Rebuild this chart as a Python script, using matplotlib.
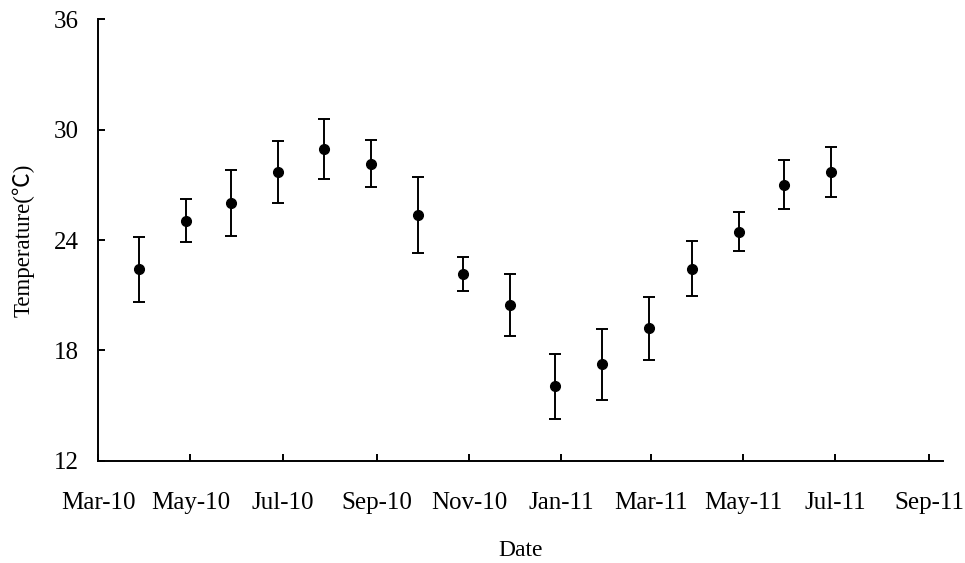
import numpy as np
import pandas as pd
import matplotlib
matplotlib.use("Agg")
import matplotlib.pyplot as plt
import matplotlib.dates as mdates

# monthly sampling dates and temperatures (mean +/- sd)
dates = pd.to_datetime([
    "2010-03-28", "2010-04-28", "2010-05-28", "2010-06-28",
    "2010-07-28", "2010-08-28", "2010-09-28", "2010-10-28",
    "2010-11-28", "2010-12-28", "2011-01-28", "2011-02-28",
    "2011-03-28", "2011-04-28", "2011-05-28", "2011-06-28",
])
temp_mean = [22.4, 25.05, 26.0, 27.7, 28.95, 28.15, 25.35, 22.15,
             20.45, 16.05, 17.25, 19.2, 22.45, 24.45, 27.0, 27.7]
temp_sd = [1.76, 1.15, 1.80, 1.70, 1.63, 1.28, 2.07, 0.92,
           1.68, 1.75, 1.93, 1.70, 1.50, 1.05, 1.33, 1.37]

tick_dates = pd.date_range("2010-03-01", "2011-09-01", freq="2MS")
y_ticks = [12, 18, 24, 30, 36]

font = ["Liberation Serif", "Noto Sans CJK TC", "DejaVu Sans"]
plt.rcParams["font.family"] = font

fig = plt.figure(figsize=(9.65, 5.63), dpi=100)
ax = fig.add_axes([0.1016, 0.1812, 0.8756, 0.785])

ax.errorbar(dates, temp_mean, yerr=temp_sd, fmt="o", color="black",
            markersize=7, elinewidth=1.4, capsize=4.5, capthick=1.4)

ax.set_xlim(pd.Timestamp("2010-03-01"), pd.Timestamp("2011-09-10"))
ax.set_ylim(12, 36)
ax.set_yticks(y_ticks)
ax.set_xticks(tick_dates)
ax.xaxis.set_major_formatter(mdates.DateFormatter("%b-%y"))

for side in ["top", "right"]:
    ax.spines[side].set_visible(False)
for side in ["left", "bottom"]:
    ax.spines[side].set_linewidth(1.4)

ax.tick_params(axis="both", direction="in", length=5, width=1.4,
               labelsize=18, colors="black")
ax.tick_params(axis="y", pad=14)
ax.tick_params(axis="x", pad=22)

ax.set_xlabel("Date", fontsize=17, labelpad=19)
ax.set_ylabel("Temperature(℃)", fontsize=16.5, labelpad=14)

fig.savefig("out.png", dpi=100)
